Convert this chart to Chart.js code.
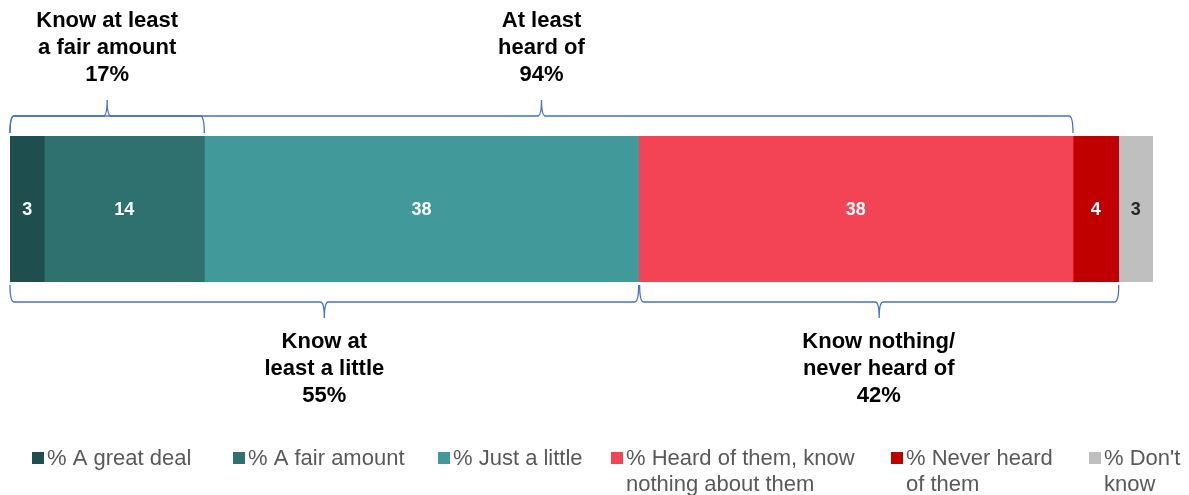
<!DOCTYPE html>
<html>
<head>
<meta charset="utf-8">
<script src="https://cdn.jsdelivr.net/npm/chart.js@4.4.1/dist/chart.umd.min.js"></script>
<style>
  html, body { margin: 0; padding: 0; background: #fff; }
  #wrap { position: relative; width: 1189px; height: 495px; }
</style>
</head>
<body>
<div id="wrap"><canvas id="awarenessChart" width="1189" height="495"></canvas></div>
<script>
// ==========================================
// =       DATA
// ==========================================
const seriesNames = [
  "% A great deal",
  "% A fair amount",
  "% Just a little",
  "% Heard of them, know nothing about them",
  "% Never heard of them",
  "% Don't know",
];
const seriesValues = [3, 14, 38, 38, 4, 3];
const seriesColors = ["#1F4E4F", "#2F716F", "#419999", "#F24455", "#C00000", "#BFBFBF"];

// legend text as it wraps in the picture
const legendLines = [
  ["% A great deal"],
  ["% A fair amount"],
  ["% Just a little"],
  ["% Heard of them, know", "nothing about them"],
  ["% Never heard", "of them"],
  ["% Don't", "know"],
];

// group braces: first / last segment index, label lines, side
const groupLabels = [
  ["Know at least", "a fair amount", "17%"],
  ["At least", "heard of", "94%"],
  ["Know at", "least a little", "55%"],
  ["Know nothing/", "never heard of", "42%"],
];
const groupFrom = [0, 0, 0, 3];
const groupTo = [1, 3, 2, 4];
const groupSide = ["top", "top", "bottom", "bottom"];

// ==========================================
// =       PLUGINS
// ==========================================
function cumulative(idx) {
  let s = 0;
  for (let i = 0; i <= idx; i++) s += seriesValues[i];
  return s;
}

function drawBrace(ctx, x1, x2, side) {
  const top = side === "top";
  const yTip = top ? 133 : 285;
  const yLine = top ? 116 : 302;
  const yPeak = top ? 100 : 318;
  const r = 4;
  const mid = (x1 + x2) / 2;
  ctx.beginPath();
  ctx.moveTo(x1, yTip);
  ctx.quadraticCurveTo(x1, yLine, x1 + r, yLine);
  ctx.lineTo(mid - r, yLine);
  ctx.quadraticCurveTo(mid, yLine, mid, yPeak);
  ctx.quadraticCurveTo(mid, yLine, mid + r, yLine);
  ctx.lineTo(x2 - r, yLine);
  ctx.quadraticCurveTo(x2, yLine, x2, yTip);
  ctx.stroke();
}

const bracePlugin = {
  id: "braces",
  afterDraw(chart) {
    const ctx = chart.ctx;
    const xs = chart.scales.x;
    ctx.save();
    ctx.strokeStyle = "#4472C4";
    ctx.lineWidth = 1.3;
    groupLabels.forEach((lines, i) => {
      const start = groupFrom[i] === 0 ? 0 : cumulative(groupFrom[i] - 1);
      const x1 = xs.getPixelForValue(start);
      const x2 = xs.getPixelForValue(cumulative(groupTo[i]));
      drawBrace(ctx, x1 + (groupSide[i] === "bottom" && groupFrom[i] > 0 ? 1 : 0), x2, groupSide[i]);

      ctx.fillStyle = "#000";
      ctx.font = "bold 22px 'Liberation Sans', Arial, sans-serif";
      ctx.textAlign = "center";
      ctx.textBaseline = "middle";
      const cx = (x1 + x2) / 2;
      const y0 = groupSide[i] === "top" ? 21 : 342;
      lines.forEach((t, j) => ctx.fillText(t, cx, y0 + j * 27));
    });
    ctx.restore();
  },
};

const valueLabelPlugin = {
  id: "valueLabels",
  afterDatasetsDraw(chart) {
    const ctx = chart.ctx;
    ctx.save();
    ctx.font = "bold 18px 'Liberation Sans', Arial, sans-serif";
    ctx.textAlign = "center";
    ctx.textBaseline = "middle";
    chart.data.datasets.forEach((ds, i) => {
      const bar = chart.getDatasetMeta(i).data[0];
      const cx = (bar.x + bar.base) / 2;
      ctx.fillStyle = i === seriesValues.length - 1 ? "#262626" : "#FFFFFF";
      ctx.fillText(String(ds.data[0]), cx, bar.y + 1);
    });
    ctx.restore();
  },
};

const legendX = [32, 233, 438, 611, 891, 1089];
const legendPlugin = {
  id: "customLegend",
  afterDraw(chart) {
    const ctx = chart.ctx;
    ctx.save();
    ctx.font = "22px 'Liberation Sans', Arial, sans-serif";
    ctx.textAlign = "left";
    ctx.textBaseline = "middle";
    legendLines.forEach((lines, i) => {
      const x = legendX[i];
      ctx.fillStyle = seriesColors[i];
      ctx.fillRect(x, 452, 12, 12);
      ctx.fillStyle = "#595959";
      lines.forEach((t, j) => ctx.fillText(t, x + 15, 459 + j * 26));
    });
    ctx.restore();
  },
};

// ==========================================
// =       CHART
// ==========================================
const ctx = document.getElementById("awarenessChart").getContext("2d");

new Chart(ctx, {
  type: "bar",
  data: {
    labels: [""],
    datasets: seriesNames.map((name, i) => ({
      label: name,
      data: [seriesValues[i]],
      backgroundColor: seriesColors[i],
      borderWidth: 0,
      barPercentage: 1,
      categoryPercentage: 1,
    })),
  },
  options: {
    indexAxis: "y",
    responsive: false,
    animation: false,
    layout: { padding: { left: 10, right: 36, top: 136, bottom: 213 } },
    plugins: { legend: { display: false }, tooltip: { enabled: false } },
    scales: {
      x: { stacked: true, min: 0, max: 100, display: false },
      y: { stacked: true, display: false },
    },
  },
  plugins: [valueLabelPlugin, bracePlugin, legendPlugin],
});
</script>
</body>
</html>
